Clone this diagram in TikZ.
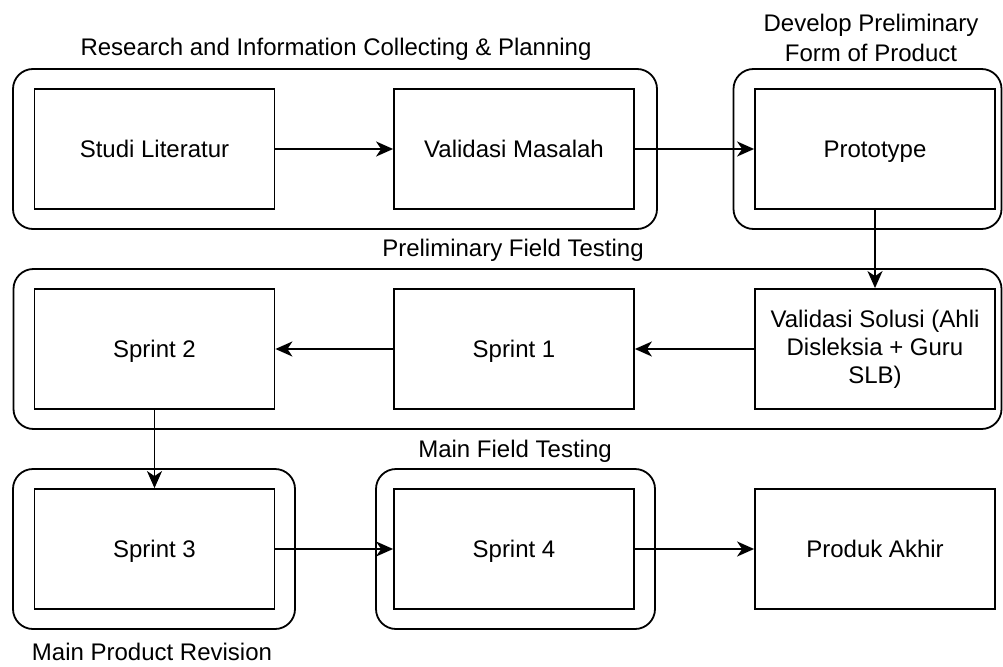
\documentclass[tikz,border=0pt]{standalone}
\usepackage{fontspec}
\setmainfont{Liberation Sans}
\usetikzlibrary{arrows.meta}
\newcommand{\stagefont}{\fontsize{24}{28}\selectfont}
\newcommand{\grpfont}{\fontsize{24}{30}\selectfont}
\tikzset{
	stage/.style={draw, line width=1.8pt, minimum width=240pt, minimum height=120pt, align=center, font=\stagefont},
	oneline/.style={text height=17pt, text depth=0pt},
	grp/.style={draw, line width=1.8pt, rounded corners=20pt},
	grplabel/.style={align=center, font=\grpfont},
	flow/.style={line width=1.8pt, -{Stealth[length=17pt,width=15pt,inset=5pt]}}
}
\begin{document}
\begin{tikzpicture}[x=1pt,y=-1pt]
		\useasboundingbox (0,0) rectangle (1003,666);
		% groups behind the stages
		\node[grp, minimum width=644pt, minimum height=160pt] (grpResearch) at (335,149) {};
		\node[grp, minimum width=268pt, minimum height=160pt] (grpDevelop) at (867.5,149) {};
		\node[grp, minimum width=988pt, minimum height=160pt] (grpPrelim) at (507.5,349) {};
		\node[grp, minimum width=282pt, minimum height=160pt] (grpRevision) at (154,549) {};
		\node[grp, minimum width=279pt, minimum height=160pt] (grpMain) at (515.5,549) {};
		\node[grplabel, oneline] (lblResearch) at (336,47) {Research and Information Collecting \& Planning};
		\node[grplabel] (lblDevelop) at (871,38) {Develop Preliminary\\Form of Product};
		\node[grplabel, oneline] (lblPrelim) at (513,248) {Preliminary Field Testing};
		\node[grplabel, oneline] (lblMain) at (515,449) {Main Field Testing};
		\node[grplabel, oneline] (lblRevision) at (152,652) {Main Product Revision};
		% stages
		\node[stage, oneline] (studi) at (154.5,149) {Studi Literatur};
		\node[stage, oneline] (masalah) at (514,149) {Validasi Masalah};
		\node[stage, oneline] (proto) at (875,149) {Prototype};
		\node[stage] (solusi) at (875,349) {Validasi Solusi (Ahli\\Disleksia + Guru\\SLB)};
		\node[stage, oneline] (sprintA) at (514,349) {Sprint 1};
		\node[stage, oneline] (sprintB) at (154.5,349) {Sprint 2};
		\node[stage, oneline] (sprintC) at (154.5,549) {Sprint 3};
		\node[stage, oneline] (sprintD) at (514,549) {Sprint 4};
		\node[stage, oneline] (produk) at (875,549) {Produk Akhir};
		% flow
		\draw[flow] (studi) -- (masalah);
		\draw[flow] (masalah) -- (proto);
		\draw[flow] (proto) -- (solusi);
		\draw[flow] (solusi) -- (sprintA);
		\draw[flow] (sprintA) -- (sprintB);
		\draw[flow] (sprintB) -- (sprintC);
		\draw[flow] (sprintC) -- (sprintD);
		\draw[flow] (sprintD) -- (produk);
	\end{tikzpicture}
\end{document}
